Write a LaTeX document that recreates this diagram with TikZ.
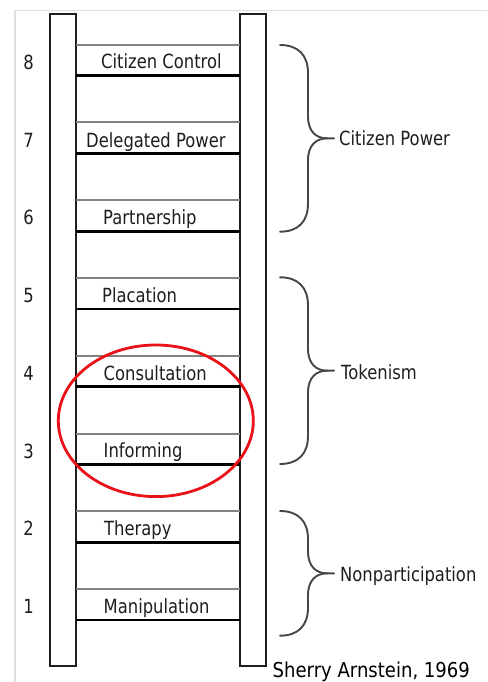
\documentclass[tikz,border=0pt]{standalone}
\usepackage{fontspec}
\setmainfont{DejaVu Sans}[FakeStretch=0.84]
\newfontfamily\creditfont{DejaVu Sans}[FakeStretch=0.88]
\definecolor{framegray}{RGB}{222,222,222}
\definecolor{runggray}{RGB}{130,130,130}
\definecolor{textgray}{RGB}{30,30,30}
\definecolor{bracegray}{RGB}{70,70,70}
\definecolor{ellred}{RGB}{232,18,24}
\newcommand\ladderbrace[2]{%
  \draw[bracestyle] (280,#1) .. controls (298,#1) and (308,{#1+10}) .. (308,{#1+28})
    -- (308,{(#1+#2)/2-22}) .. controls (308,{(#1+#2)/2-7}) and (316,{(#1+#2)/2}) .. (327,{(#1+#2)/2})
    -- (334,{(#1+#2)/2});
  \draw[bracestyle] (280,#2) .. controls (298,#2) and (308,{#2-10}) .. (308,{#2-28})
    -- (308,{(#1+#2)/2+22}) .. controls (308,{(#1+#2)/2+7}) and (316,{(#1+#2)/2}) .. (327,{(#1+#2)/2});
}
\tikzset{
  railstyle/.style={draw=black!88, line width=2pt, fill=white},
  rungtop/.style={draw=runggray, line width=2pt},
  rungbot/.style={draw=black, line width=2.6pt},
  bracestyle/.style={draw=bracegray, line width=1.9pt, line cap=round},
  lbl/.style={inner sep=0pt, anchor=base west, text=textgray, font=\fontsize{19.5}{20}\selectfont},
  numlbl/.style={inner sep=0pt, anchor=base, text=textgray, font=\fontsize{19.5}{20}\selectfont},
}
\begin{document}
\begin{tikzpicture}[x=1pt,y=-1pt]
\useasboundingbox (0,0) rectangle (487,682);
\fill[white] (0,0) rectangle (487,682);
% frame
\draw[framegray, line width=1.5pt] (15,682) -- (15,10.5) -- (487,10.5);
% rails
\draw[railstyle] (50,14) rectangle (76,666);
\draw[railstyle] (240,14) rectangle (266,666);
% rungs
\foreach \k in {1,...,8}{
  \pgfmathsetmacro\T{589-(\k-1)*77.75}
  \draw[rungtop] (76,\T) -- (240,\T);
  \draw[rungbot] (76,\T+31) -- (240,\T+31);
  \node[numlbl] (n\k) at (28.5,\T+24.5) {\k};
}
% rung labels
\node[lbl] (l8) at (101,69) {Citizen Control};
\node[lbl] (l7) at (86,147) {Delegated Power};
\node[lbl] (l6) at (103,224.5) {Partnership};
\node[lbl] (l5) at (102,302.3) {Placation};
\node[lbl] (l4) at (103.5,380) {Consultation};
\node[lbl] (l3) at (103.5,457.8) {Informing};
\node[lbl] (l2) at (104,535.5) {Therapy};
\node[lbl] (l1) at (103.5,613.3) {Manipulation};
% braces
\ladderbrace{45}{231.7}
\ladderbrace{277.3}{464}
\ladderbrace{511}{635.7}
\node[lbl] (g3) at (339,146) {Citizen Power};
\node[lbl] (g2) at (341,379.5) {Tokenism};
\node[lbl] (g1) at (340,581.7) {Nonparticipation};
% red ellipse
\draw[ellred, line width=2.8pt] (155.8,420.8) ellipse [x radius=97.5, y radius=75.8];
% credit
\node[inner sep=0pt, anchor=base west, text=black, font=\creditfont\fontsize{20.5}{21}\selectfont] (cr) at (272.5,677) {Sherry Arnstein, 1969};
\end{tikzpicture}
\end{document}
